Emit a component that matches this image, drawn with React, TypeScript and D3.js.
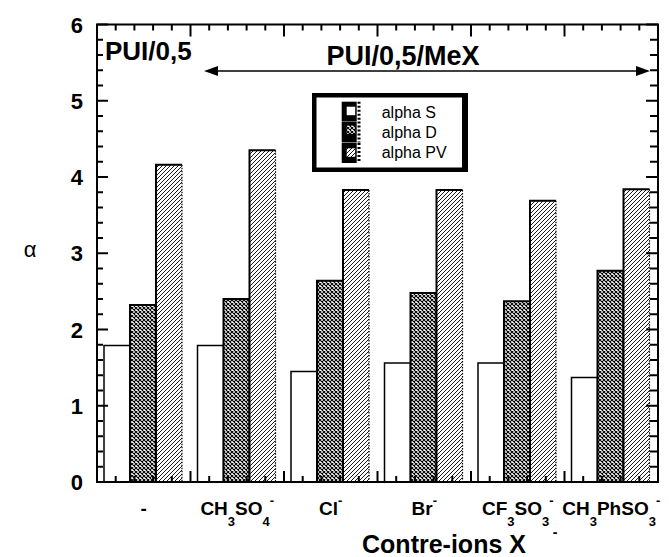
import React from "react";
import * as d3 from "d3";

const categories = ["none", "CH3SO4", "Cl", "Br", "CF3SO3", "CH3PhSO3"];
// label segments: [text, kind] kind: n = normal, b = subscript, p = superscript
const categoryLabels: [string, string][][] = [
  [["-", "n"]],
  [["CH", "n"], ["3", "b"], ["SO", "n"], ["4", "b"], ["-", "p"]],
  [["Cl", "n"], ["-", "p"]],
  [["Br", "n"], ["-", "p"]],
  [["CF", "n"], ["3", "b"], ["SO", "n"], ["3", "b"], ["-", "p"]],
  [["CH", "n"], ["3", "b"], ["PhSO", "n"], ["3", "b"], ["-", "p"]],
];
const seriesNames = ["alpha S", "alpha D", "alpha PV"];
const alphaS = [1.79, 1.79, 1.45, 1.56, 1.56, 1.37];
const alphaD = [2.32, 2.4, 2.64, 2.48, 2.37, 2.77];
const alphaPV = [4.16, 4.35, 3.83, 3.83, 3.69, 3.84];
const yTicks = [0, 1, 2, 3, 4, 5, 6];

const W = 669;
const H = 557;
const FONT = "Arial, 'Liberation Sans', Helvetica, sans-serif";

export default function App() {
  const left = 97, right = 658, top = 24.5, bottom = 482;
  const y = d3.scaleLinear().domain([0, 6]).range([bottom, top]);
  const x = d3.scaleBand<string>().domain(categories).range([left, right]).paddingInner(0).paddingOuter(0);
  const step = x.step();
  const inner = d3.scaleBand<string>().domain(seriesNames).range([7, 7 + 78]).padding(0);
  const bw = inner.bandwidth();
  const seriesVals = [alphaS, alphaD, alphaPV];
  const fills = ["white", "url(#cross)", "url(#hatch)"];

  const minorY = d3.range(1, 30).filter((k) => k % 5 !== 0).map((k) => k / 5);
  const xMajor = d3.range(1, categories.length).map((i) => left + i * step);
  const xMinor: number[] = [];
  categories.forEach((_, i) => {
    for (let k = 1; k < 5; k++) xMinor.push(left + i * step + (k * step) / 5);
  });

  const tks: { x1: number; y1: number; x2: number; y2: number }[] = [];
  yTicks.forEach((t) => {
    tks.push({ x1: left, y1: y(t), x2: left + 11, y2: y(t) });
    tks.push({ x1: right, y1: y(t), x2: right - 12, y2: y(t) });
  });
  minorY.forEach((t) => {
    tks.push({ x1: left, y1: y(t), x2: left + 6, y2: y(t) });
    tks.push({ x1: right, y1: y(t), x2: right - 8, y2: y(t) });
  });
  xMajor.forEach((t) => {
    tks.push({ x1: t, y1: top, x2: t, y2: top + 12 });
    tks.push({ x1: t, y1: bottom, x2: t, y2: bottom - 11 });
  });
  xMinor.forEach((t) => {
    tks.push({ x1: t, y1: top, x2: t, y2: top + 6 });
    tks.push({ x1: t, y1: bottom, x2: t, y2: bottom - 6 });
  });

  return (
    <svg width={W} height={H} style={{ display: "block", position: "absolute", left: 0, top: 0 }}>
      <defs>
        <pattern id="cross" width="4" height="4" patternUnits="userSpaceOnUse">
          <rect width="4" height="4" fill="white" />
          <path d="M0,0 L4,4 M4,0 L0,4" stroke="black" strokeWidth="1.1" />
        </pattern>
        <pattern id="hatch" width="4" height="4" patternUnits="userSpaceOnUse">
          <rect width="4" height="4" fill="white" />
          <path d="M-1,1 L1,-1 M0,4 L4,0 M3,5 L5,3" stroke="black" strokeWidth="0.9" />
        </pattern>
      </defs>
      <rect width={W} height={H} fill="white" />

      {categories.map((c, i) => (
        <g key={c}>
          {seriesNames.map((s, j) => {
            const x0 = (x(c) as number) + (inner(s) as number);
            const v = seriesVals[j][i];
            const yt = y(v);
            return (
              <g key={s}>
                <rect x={x0} y={yt} width={bw} height={bottom - yt} fill={fills[j]} />
                <path d={`M${x0},${bottom} V${yt} H${x0 + bw}`} fill="none" stroke="black" strokeWidth={j === 0 ? 1.5 : 2} />
                {j === 2 ? (
                  <path d={`M${x0 + bw},${yt} V${bottom}`} stroke="black" strokeWidth={1.2} strokeDasharray="1.5,1.5" />
                ) : (
                  <path d={`M${x0 + bw},${yt} V${bottom}`} stroke="black" strokeWidth={j === 0 ? 1.5 : 2} />
                )}
              </g>
            );
          })}
        </g>
      ))}

      <rect x={left} y={top} width={right - left} height={bottom - top} fill="none" stroke="black" strokeWidth={2} />

      {tks.map((t, k) => (
        <line key={k} x1={t.x1} y1={t.y1} x2={t.x2} y2={t.y2} stroke="black" strokeWidth={2} />
      ))}

      {yTicks.map((t) => (
        <text key={"yl" + t} x={83} y={y(t) + 8} textAnchor="end" fontFamily={FONT} fontWeight="bold" fontSize={22}>
          {t}
        </text>
      ))}
      <text x={30} y={257} textAnchor="middle" fontFamily={FONT} fontSize={22}>α</text>

      {categoryLabels.map((segs, i) => {
        const cx = (x(categories[i]) as number) + step / 2;
        let state = 0;
        return (
          <text key={"xl" + i} x={cx} y={515} textAnchor="middle" fontFamily={FONT} fontWeight="bold" fontSize={19}>
            {segs.map(([txt, kind], k) => {
              const target = kind === "b" ? 11 : kind === "p" ? -10 : 0;
              const dy = target - state;
              state = target;
              return (
                <tspan key={k} dy={dy} fontSize={kind === "n" ? 19 : 13}>
                  {txt}
                </tspan>
              );
            })}
          </text>
        );
      })}
      <text x={444} y={553} textAnchor="middle" fontFamily={FONT} fontWeight="bold" fontSize={25}>
        Contre-ions X
      </text>
      <text x={555} y={537} textAnchor="middle" fontFamily={FONT} fontWeight="bold" fontSize={14}>-</text>

      <text x={105} y={60} fontFamily={FONT} fontWeight="bold" fontSize={26}>PUI/0,5</text>
      <text x={403} y={65} textAnchor="middle" fontFamily={FONT} fontWeight="bold" fontSize={27}>PUI/0,5/MeX</text>
      <line x1={216} x2={638} y1={71} y2={71} stroke="black" strokeWidth={1.5} />
      <path d="M204,71 L218,66 L218,76 Z" fill="black" />
      <path d="M650,71 L636,66 L636,76 Z" fill="black" />

      <rect x={312} y={93} width={156} height={79} fill="black" />
      <rect x={316.5} y={97.5} width={145.5} height={70} fill="white" />
      {seriesNames.map((s, j) => {
        const ry = [101.7, 121.5, 143][j];
        const rh = [19.5, 21, 20][j];
        const sq = [106.7, 125.5, 148.3][j];
        return (
          <g key={"lg" + s}>
            <rect x={341.7} y={ry} width={15} height={rh} fill="black" />
            <line x1={359} x2={359} y1={ry} y2={ry + rh} stroke="black" strokeWidth={3} strokeDasharray="2,2" />
            <rect x={346.7} y={sq} width={8.5} height={8.5} fill={fills[j]} />
            <text x={381.7} y={[118, 137.5, 158][j]} fontFamily={FONT} fontSize={16}>
              {s}
            </text>
          </g>
        );
      })}
    </svg>
  );
}
